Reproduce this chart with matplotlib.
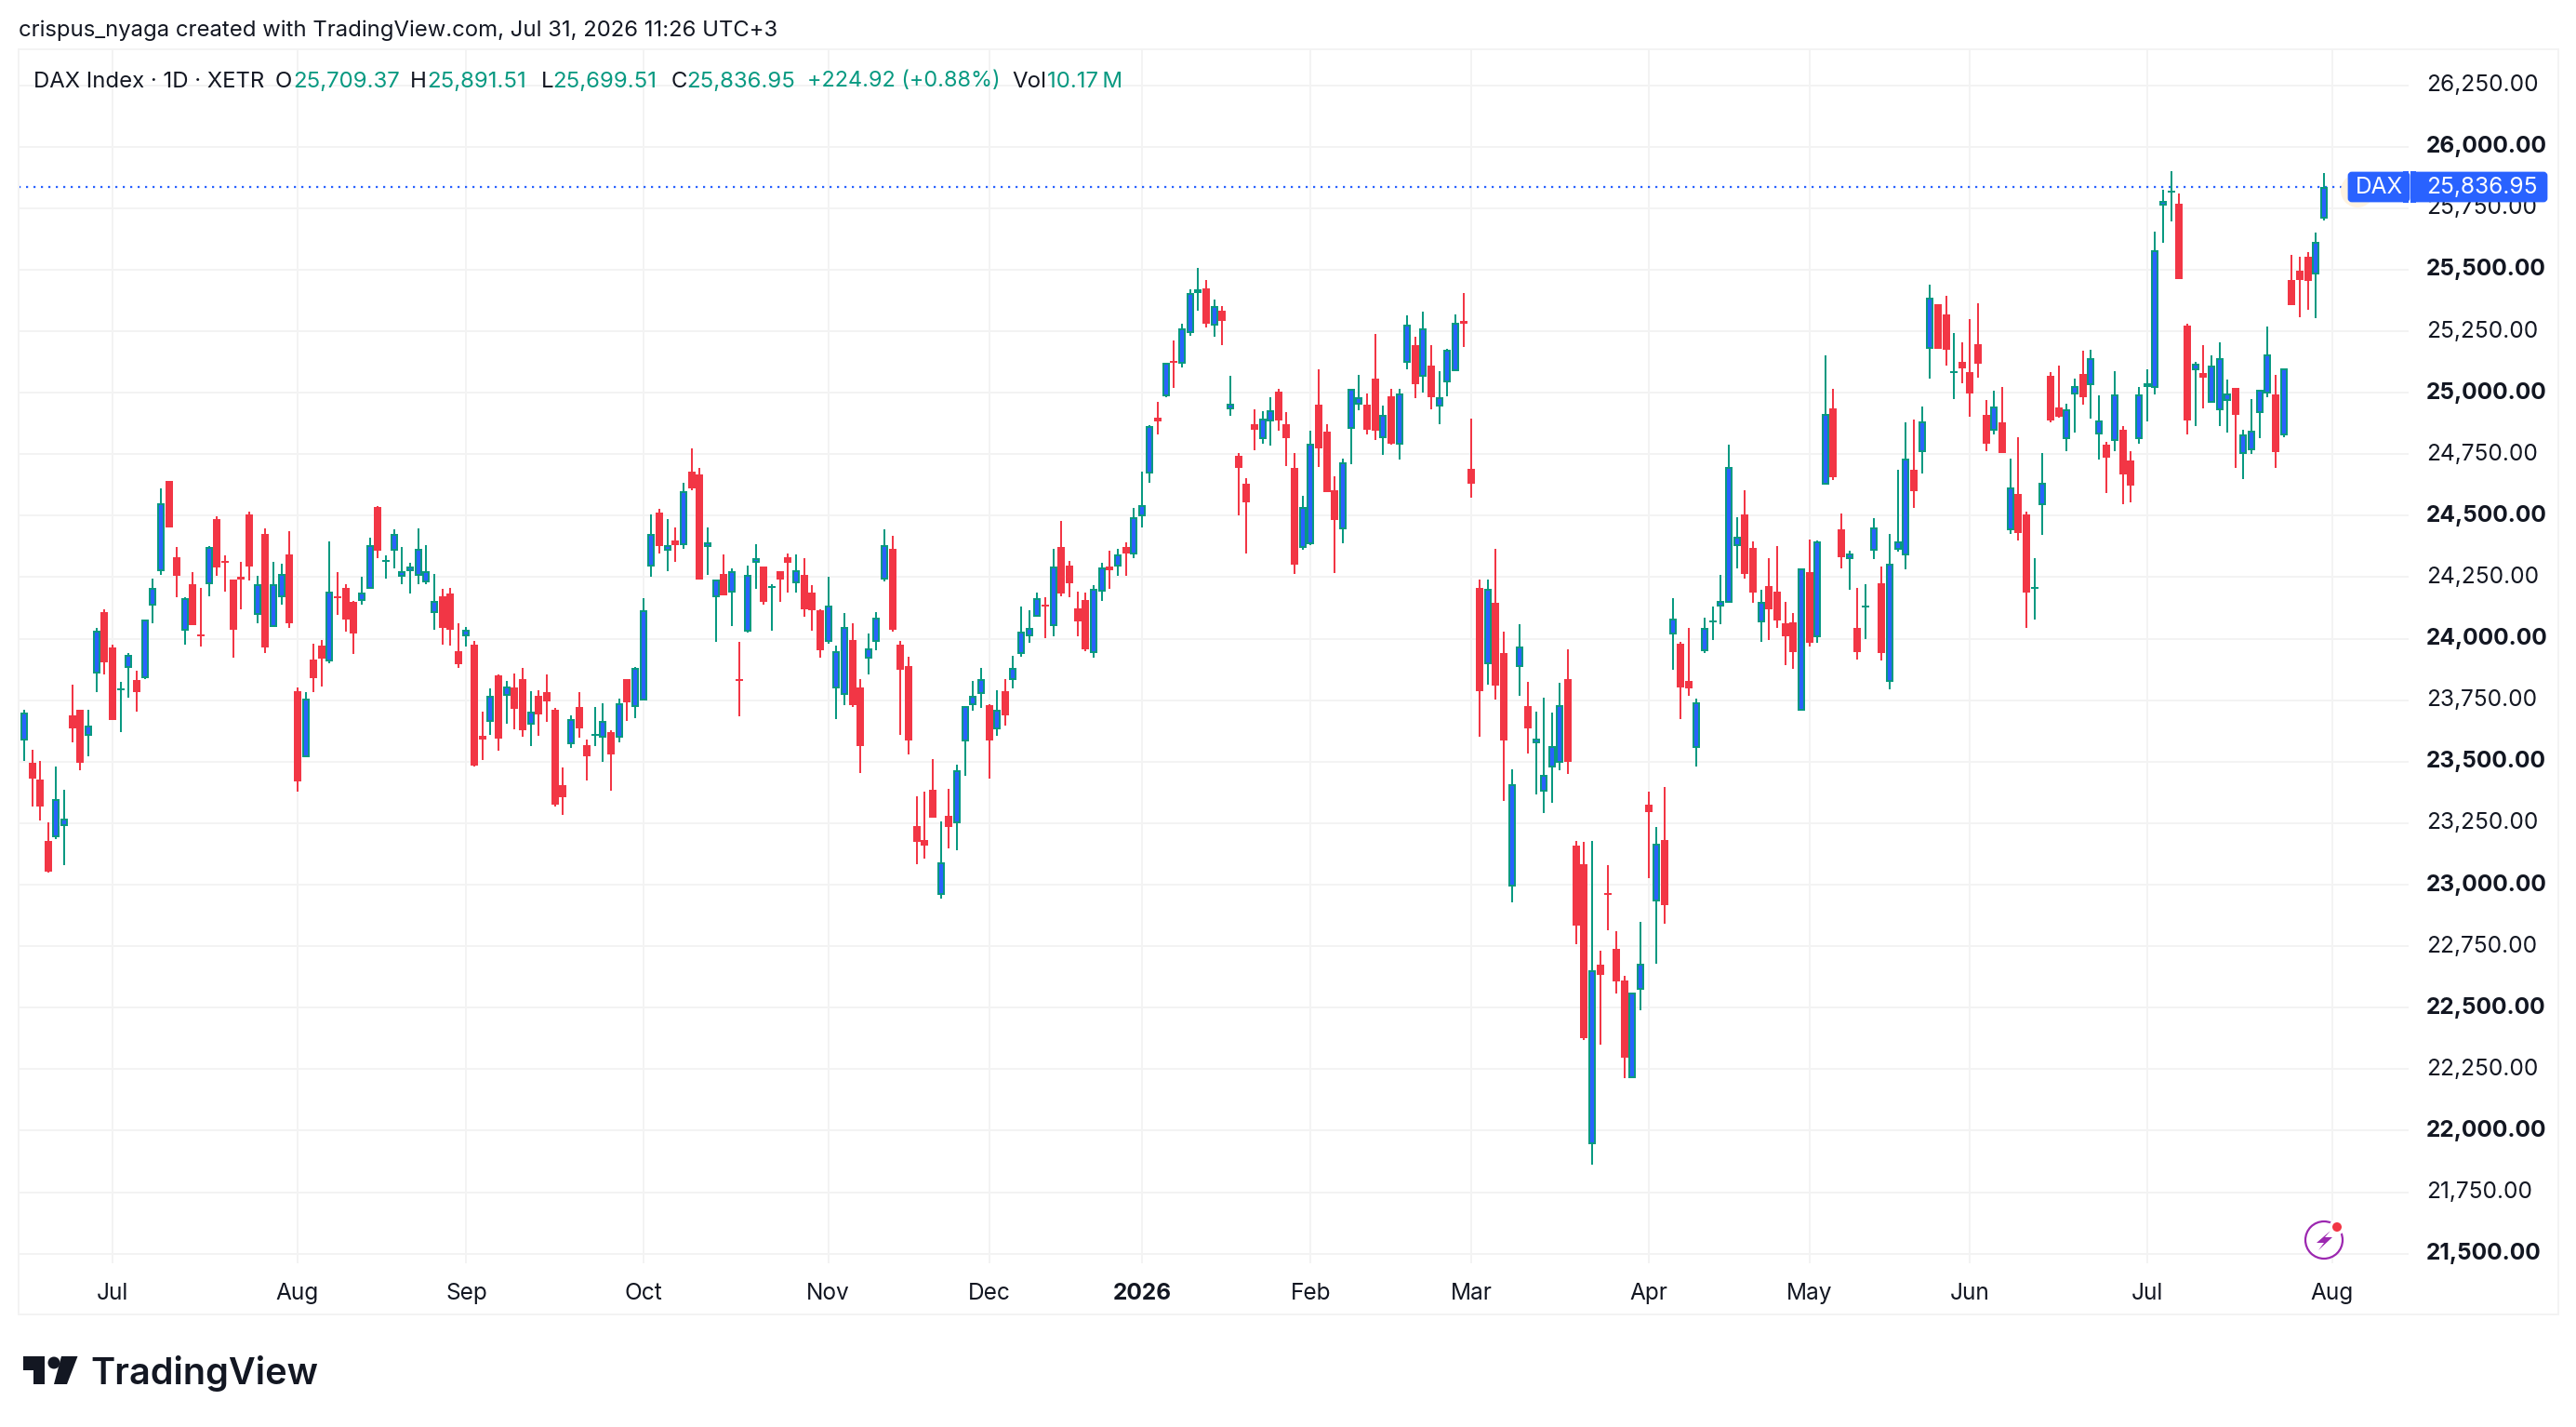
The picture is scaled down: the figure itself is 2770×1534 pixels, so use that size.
import matplotlib
matplotlib.use('Agg')
import matplotlib.pyplot as plt
from matplotlib.patches import Circle, Polygon, Rectangle, FancyBboxPatch

plt.rcParams['font.family'] = ['Inter', 'DejaVu Sans']

# Daily DAX bars, oldest first
opens = [23443, 23588, 23496, 23428, 23178, 23193, 23239, 23689, 23712, 23606, 23860, 24110,
    23966, 23790, 23882, 23833, 23841, 24133, 24276, 24640, 24333, 24034, 24220, 24015, 24223,
    24485, 24314, 24239, 24250, 24504, 24095, 24424, 24049, 24167, 24341,
    23788, 23519, 23917, 23973, 23909, 24170, 24208, 24148, 24155, 24204, 24534, 24313, 24356,
    24250, 24273, 24254, 24231, 24106, 24174, 24182, 23951,
    24008, 23977, 23606, 23663, 23852, 23769, 23803, 23837, 23651, 23769, 23784, 23712, 23405,
    23572, 23723, 23568, 23606, 23598, 23621, 23598, 23837, 23723,
    23750, 24292, 24511, 24356, 24401, 24379, 24678, 24667, 24371, 24167, 24265, 24186, 23837,
    24030, 24307, 24295, 24205, 24276, 24333, 24227, 24261, 24189, 24117,
    23989, 23799, 23773, 23996, 23803, 23920, 23989, 24242, 24367, 23977, 23890, 23239, 23182,
    23386, 22958, 23280, 23250, 23583, 23731, 23776,
    23731, 23633, 23788, 23833, 23939, 24011, 24091, 24136, 24053, 24371, 24299, 24125, 24159,
    23943, 24193, 24292, 24295, 24371, 24341,
    24496, 24673, 24900, 24987, 25131, 25117, 25241, 25404, 25426, 25271, 25332, 24934, 24745,
    24631, 24873, 24813, 24885, 25006, 24873, 24695, 24370,
    24385, 24953, 24843, 24604, 24445, 24854, 24953, 24953, 25059, 24817, 24987, 24790, 25120,
    25195, 25063, 25112, 24945, 25044, 25089, 25290,
    24692, 24208, 23897, 24147, 23943, 22994, 23884, 23727, 23576, 23379, 23477, 23497, 23836,
    23159, 23083, 21946, 22676, 22967, 22740, 22610, 22212, 22573,
    23326, 22933, 23183, 24019, 23980, 23830, 23556, 23950, 24065, 24132, 24145, 24377, 24506,
    24370, 24067, 24214, 24192, 24063, 24067, 23708,
    24271, 24006, 24627, 24938, 24445, 24324, 24044, 24127, 24358, 24226, 23825, 24362, 24337,
    24688, 24760, 25177, 25358, 25320, 25081, 25125,
    25083, 25196, 24908, 24845, 24879, 24441, 24587, 24504, 24204, 24542, 25068, 24939, 24810,
    24992, 25075, 25030, 24829, 24788, 24803, 24848, 24723, 24810,
    25022, 25018, 25761, 25813, 25768, 25272, 25092, 25079, 24960, 24929, 24966, 25018, 24752,
    24765, 24916, 24996, 24992, 24827, 25457, 25495, 25552, 25481, 25709.37]

highs = [23530, 23712, 23549, 23504, 23254, 23481, 23386, 23814, 23712, 23712, 24042, 24121,
    23977, 23826, 23943, 23871, 24076, 24246, 24610, 24640, 24371, 24170, 24269, 24208, 24375,
    24496, 24337, 24239, 24311, 24515, 24254, 24447, 24311, 24303, 24436,
    23803, 23784, 23981, 23996, 24394, 24269, 24220, 24155, 24250, 24409, 24538, 24337, 24443,
    24371, 24307, 24447, 24379, 24265, 24201, 24208, 24064,
    24049, 23992, 23704, 23799, 23856, 23829, 23860, 23883, 23788, 23792, 23856, 23720, 23477,
    23689, 23784, 23591, 23723, 23739, 23629, 23758, 23837, 23886,
    24163, 24504, 24526, 24485, 24454, 24632, 24773, 24693, 24451, 24242, 24341, 24284, 23989,
    24299, 24386, 24295, 24223, 24276, 24348, 24341, 24326, 24216, 24121,
    24250, 23973, 24106, 24061, 23837, 24023, 24110, 24443, 24417, 23992, 23928, 23360, 23379,
    23511, 23257, 23390, 23489, 23727, 23829, 23883,
    23735, 23792, 23837, 23932, 24132, 24117, 24189, 24170, 24364, 24477, 24318, 24193, 24186,
    24216, 24307, 24356, 24364, 24390, 24530,
    24678, 24870, 24964, 25120, 25214, 25279, 25419, 25506, 25460, 25377, 25351, 25067, 24756,
    24654, 24934, 24926, 24983, 25017, 24923, 24756, 24582,
    24847, 25097, 24873, 24661, 24733, 25014, 25074, 24998, 25237, 24949, 25017, 25017, 25313,
    25226, 25328, 25192, 25089, 25180, 25317, 25404,
    24896, 24242, 24242, 24367, 24029, 23470, 24059, 23825, 23705, 23760, 23701, 23821, 23958,
    23178, 23174, 23178, 22732, 23080, 22811, 22631, 22561, 22850,
    23379, 23235, 23397, 24166, 23989, 24044, 23757, 24086, 24129, 24260, 24790, 24495, 24604,
    24396, 24199, 24328, 24377, 24150, 24104, 24286,
    24404, 24400, 25150, 25017, 24510, 24358, 24207, 24222, 24491, 24294, 24426, 24688, 24881,
    24892, 24942, 25438, 25358, 25392, 25244, 25204,
    25299, 25362, 24969, 25007, 25022, 24731, 24818, 24515, 24326, 24753, 25083, 25110, 24954,
    25056, 25169, 25173, 24988, 24799, 25087, 24866, 24761, 25022,
    25094, 25654, 25825, 25900, 25810, 25280, 25125, 25192, 25150, 25204, 25053, 25018, 24848,
    24973, 25011, 25268, 25072, 25098, 25560, 25552, 25571, 25650, 25891.51]

lows = [23430, 23504, 23316, 23261, 23049, 23186, 23079, 23579, 23466, 23523, 23784, 23856,
    23670, 23621, 23761, 23704, 23837, 24064, 24261, 24451, 24167, 23977, 24057, 23970, 24174,
    24254, 24193, 23924, 24121, 24235, 24064, 23943, 24049, 24140, 24042,
    23379, 23519, 23784, 23807, 23901, 24098, 24030, 23939, 24140, 24204, 24329, 24246, 24284,
    24220, 24182, 24223, 24223, 24038, 23977, 23973, 23883,
    23970, 23481, 23508, 23610, 23545, 23655, 23633, 23602, 23564, 23606, 23663, 23318, 23284,
    23557, 23598, 23424, 23564, 23500, 23383, 23579, 23667, 23678,
    23750, 24250, 24345, 24273, 24311, 24364, 24602, 24239, 24261, 23989, 24178, 24053, 23686,
    24026, 24201, 24140, 24034, 24148, 24186, 24189, 24091, 24034, 23924,
    23981, 23674, 23731, 23723, 23454, 23856, 23954, 24234, 24030, 23610, 23530, 23083, 23106,
    23273, 22943, 23148, 23140, 23443, 23708, 23720,
    23432, 23606, 23648, 23799, 23928, 23985, 24091, 24004, 24008, 24174, 24170, 24011, 23951,
    23924, 24155, 24204, 24257, 24254, 24329,
    24451, 24635, 24832, 24981, 25021, 25104, 25233, 25335, 25267, 25229, 25195, 24907, 24502,
    24347, 24767, 24794, 24786, 24847, 24703, 24264, 24362,
    24381, 24699, 24597, 24267, 24389, 24710, 24930, 24832, 24809, 24748, 24790, 24729, 25097,
    24979, 25002, 24934, 24873, 24987, 25086, 25184,
    24574, 23602, 23815, 23754, 23342, 22930, 23766, 23534, 23367, 23293, 23333, 23467, 23451,
    22759, 22369, 21862, 22350, 22815, 22558, 22213, 22212, 22490,
    23027, 22680, 22842, 23875, 23674, 23769, 23482, 23940, 23995, 24059, 24145, 24286, 24245,
    24146, 23987, 23995, 24044, 23892, 23877, 23708,
    23968, 23983, 24627, 24646, 24286, 24199, 23915, 23998, 24324, 23911, 23794, 24354, 24283,
    24533, 24673, 25059, 25177, 25112, 24973, 25037,
    24902, 25060, 24761, 24829, 24753, 24425, 24398, 24042, 24076, 24421, 24879, 24898, 24761,
    24837, 24950, 24894, 24727, 24591, 24761, 24546, 24553, 24791,
    24885, 24992, 25608, 25696, 25461, 24829, 24866, 24935, 24960, 24866, 24837, 24694, 24648,
    24750, 24814, 24980, 24694, 24818, 25357, 25306, 25337, 25302, 25699.51]

closes = [23515, 23701, 23432, 23316, 23053, 23348, 23269, 23636, 23496, 23648, 24034, 23905,
    23670, 23795, 23936, 23784, 24076, 24208, 24549, 24454, 24254, 24163, 24057, 24009, 24371,
    24288, 24307, 24038, 24242, 24292, 24220, 23966, 24220, 24265, 24061,
    23420, 23758, 23841, 23920, 24193, 24163, 24079, 24023, 24186, 24379, 24356, 24318, 24424,
    24276, 24295, 24364, 24273, 24155, 24042, 24038, 23898,
    24038, 23485, 23591, 23769, 23595, 23807, 23716, 23629, 23704, 23693, 23746, 23326, 23356,
    23674, 23636, 23523, 23614, 23667, 23530, 23739, 23742, 23882,
    24114, 24424, 24375, 24379, 24382, 24598, 24610, 24239, 24390, 24239, 24178, 24273, 23830,
    24261, 24329, 24148, 24212, 24239, 24307, 24280, 24121, 24117, 23954,
    24133, 23951, 24049, 23731, 23564, 23962, 24087, 24382, 24038, 23875, 23587, 23174, 23159,
    23273, 23091, 23235, 23466, 23727, 23769, 23837,
    23587, 23712, 23689, 23882, 24030, 24045, 24163, 24129, 24295, 24182, 24227, 24072, 23958,
    24201, 24288, 24280, 24341, 24348, 24492,
    24542, 24866, 24885, 25120, 25123, 25260, 25404, 25419, 25279, 25351, 25290, 24957, 24695,
    24555, 24851, 24896, 24930, 24889, 24817, 24301, 24536,
    24794, 24775, 24597, 24483, 24718, 25014, 24983, 24851, 24847, 24911, 24794, 24995, 25275,
    25036, 25260, 24983, 24983, 25173, 25286, 25279,
    24631, 23788, 24203, 23811, 23587, 23409, 23970, 23635, 23592, 23446, 23565, 23730, 23500,
    22835, 22377, 22652, 22634, 22960, 22607, 22298, 22561, 22680,
    23296, 23168, 22918, 24080, 23803, 23799, 23742, 24044, 24073, 24154, 24699, 24415, 24264,
    24188, 24150, 24120, 24074, 24010, 23945, 24286,
    23983, 24396, 24915, 24658, 24332, 24347, 23945, 24135, 24453, 23942, 24305, 24396, 24733,
    24601, 24885, 25385, 25177, 25173, 25088, 25098,
    24996, 25116, 24791, 24942, 24753, 24614, 24429, 24189, 24212, 24633, 24889, 24904, 24931,
    25026, 24980, 25139, 24889, 24734, 24992, 24666, 24621, 24992,
    25037, 25579, 25779, 25821, 25461, 24889, 25116, 25061, 25112, 25142, 24996, 24908, 24829,
    24845, 25011, 25154, 24757, 25098, 25357, 25457, 25453, 25612.03, 25836.95]

# Bar numbers counted from the first session of July 2025
first_bar = -12
month_bars = [0, 23, 44, 66, 89, 109, 128, 149, 169, 191, 211, 231, 253, 276]
month_labels = ['Jul', 'Aug', 'Sep', 'Oct', 'Nov', 'Dec', '2026', 'Feb', 'Mar', 'Apr', 'May', 'Jun', 'Jul', 'Aug']
price_ticks = list(range(21500, 26251, 250))
last_price = closes[-1]

W, H = 2770, 1534
DARK = '#131722'
TEAL = '#089981'
RED = '#F23645'
BLUE = '#2962FF'
GRID = '#F3F3F3'

fig = plt.figure(figsize=(W / 100, H / 100), dpi=100, facecolor='white')
ax = fig.add_axes([20 / W, (H - 1358) / H, 2570 / W, 1305 / H])
ax.set_xlim(-11.68, 285.53)
ax.set_ylim(21461, 26396)
for s in ax.spines.values():
    s.set_visible(False)
ax.grid(True, color=GRID, linewidth=1.44)
ax.set_axisbelow(True)

# border thickness of an up candle, 2 px in price units
border = 2 * (26396 - 21461) / 1305

# later bars paint over earlier ones
for n, (o, h, l, c) in enumerate(zip(opens, highs, lows, closes)):
    bar = first_bar + n
    z = 3 + n * 0.01
    top, bottom = max(o, c), min(o, c)
    up = c >= o
    colour = TEAL if up else RED
    ax.vlines(bar, l, h, color=colour, linewidth=1.44, zorder=z)
    ax.bar(bar, max(top - bottom, border), bottom=bottom, width=0.925, color=colour, linewidth=0, zorder=z)
    if up and top - bottom > 2 * border:
        ax.bar(bar, top - bottom - 2 * border, bottom=bottom + border, width=0.46, color=BLUE, linewidth=0, zorder=z)

ax.axhline(last_price, color=BLUE, linewidth=1.6, linestyle=(0, (1, 2.6)), zorder=2.9)

ax.yaxis.tick_right()
ax.set_yticks(price_ticks)
ax.set_yticklabels(['{:,.2f}'.format(p) for p in price_ticks], ha='left', va='center', fontsize=17.6, color=DARK)
for p, t in zip(price_ticks, ax.get_yticklabels()):
    if p % 500 == 0:
        t.set_fontweight('bold')
ax.set_xticks(month_bars)
ax.set_xticklabels(month_labels, fontsize=17.6, color=DARK)
ax.get_xticklabels()[6].set_fontweight('bold')
ax.tick_params(axis='y', length=0, pad=13.7)
ax.tick_params(axis='x', length=0, pad=14.8)

# Overlay in pixel coordinates for the frame, header, price tag and logo
deco = fig.add_axes([0, 0, 1, 1], facecolor='none', zorder=5)
deco.set_xlim(0, W)
deco.set_ylim(H, 0)
deco.axis('off')

deco.add_patch(Rectangle((20, 53), 2731, 1360, fill=False, edgecolor=GRID, linewidth=1.44))

deco.text(20, 33, 'crispus_nyaga created with TradingView.com, Jul 31, 2026 11:26 UTC+3',
          fontsize=17.2, color=DARK, va='center')

header = [(36, 'DAX Index · 1D · XETR', DARK, 17.2), (296, 'O', DARK, 17.3), (315, '25,709.37', TEAL, 17.3),
          (441, 'H', DARK, 17.3), (459, '25,891.51', TEAL, 17.3), (582, 'L', DARK, 17.3), (594, '25,699.51', TEAL, 17.3),
          (722, 'C', DARK, 17.3), (738, '25,836.95', TEAL, 17.3), (868, '+224.92 (+0.88%)', TEAL, 16.9),
          (1088, 'Vol', DARK, 17.3), (1126, '10.17\u2009M', TEAL, 17.3)]
for x, txt, col, size in header:
    deco.text(x, 87.5, txt, fontsize=size, color=col, va='center')

# Last price tag
deco.add_patch(Circle((2535, 205), 18, color='#FFF3E0', linewidth=0))
deco.add_patch(FancyBboxPatch((2526, 186), 64, 30, boxstyle='round,pad=0,rounding_size=3', color=BLUE, linewidth=2))
deco.add_patch(FancyBboxPatch((2594, 186), 144, 30, boxstyle='round,pad=0,rounding_size=3', color=BLUE, linewidth=2))
deco.add_patch(Rectangle((2584, 184), 6, 34, color=BLUE, linewidth=0))
deco.add_patch(Rectangle((2592, 184), 6, 34, color=BLUE, linewidth=0))
deco.text(2558, 201, 'DAX', fontsize=17.6, color='white', ha='center', va='center')
deco.text(2609, 201, '25,836.95', fontsize=17.6, color='white', va='center')

# Flash badge at the lower right of the pane
deco.add_patch(Circle((2499, 1333), 20, facecolor='white', edgecolor='#9C27B0', linewidth=1.6))
deco.add_patch(Polygon([(2506, 1323), (2491, 1336), (2499, 1336), (2493, 1344), (2508, 1330), (2500, 1330)],
                       color='#9C27B0', linewidth=0))
deco.add_patch(Circle((2513, 1319), 8.5, color='white', linewidth=0))
deco.add_patch(Circle((2513, 1319), 5, color=RED, linewidth=0))

# TradingView mark
deco.add_patch(Polygon([(24.5, 1458), (48, 1458), (48, 1488), (36, 1488), (36, 1473), (24.5, 1473)], color=DARK, linewidth=0))
deco.add_patch(Circle((58, 1465), 6.5, color=DARK, linewidth=0))
deco.add_patch(Polygon([(66, 1458), (83.5, 1458), (72, 1488), (58, 1488)], color=DARK, linewidth=0))
deco.text(97, 1488, 'TradingView', fontsize=28.6, color=DARK, fontweight='semibold', va='baseline')

fig.savefig('out.png', dpi=100)
